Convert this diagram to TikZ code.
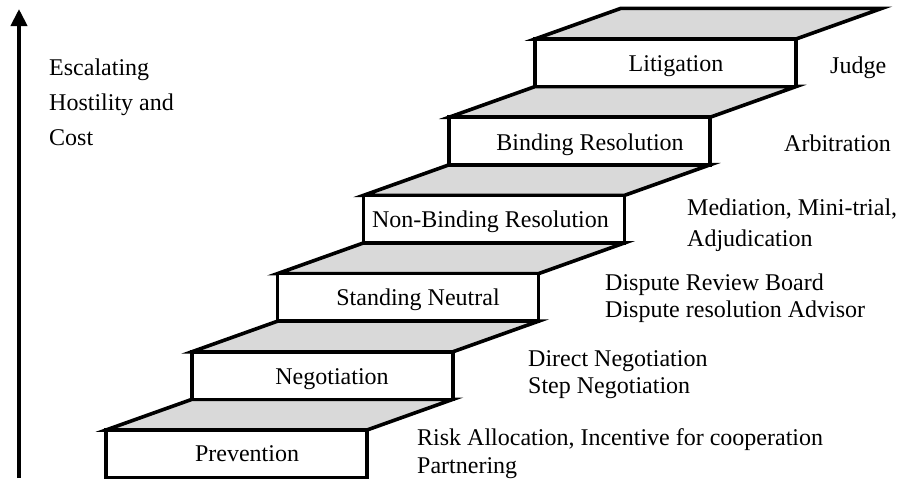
\documentclass[tikz,border=0pt]{standalone}
\usepackage{fontspec}
\setmainfont{Liberation Serif}
\usetikzlibrary{arrows.meta}
\begin{document}
\begin{tikzpicture}[x=1pt,y=-1pt,
  tread/.style={fill=treadgray,draw=black,line width=3.6pt,line join=miter},
  face/.style={fill=white,draw=black,line width=3.6pt,line join=miter},
  lab/.style={anchor=base,inner sep=0pt,font=\fontsize{24}{28}\selectfont},
  side/.style={anchor=base west,inner sep=0pt,align=left,font=\fontsize{24}{28}\selectfont}]
\definecolor{treadgray}{HTML}{D9D9D9}
\useasboundingbox (0,0) rectangle (904,479);
% steps
\foreach \i in {0,...,5}{
  \pgfmathsetmacro\L{106+85.8*\i}
  \pgfmathsetmacro\T{430-78.2*\i}
  \coordinate (fl\i) at (\L,\T);
  \draw[tread] (fl\i) -- ++(261,0) -- ++(86,-30.7) -- ++(-261,0) -- cycle;
  \draw[face] (fl\i) rectangle ++(261,47.5);
}
% step labels
\node[lab] (l0) at (247,461) {Prevention};
\node[lab] (l1) at (332,384) {Negotiation};
\node[lab] (l2) at (418,305) {Standing Neutral};
\node[lab] (l3) at (490.5,227) {Non-Binding Resolution};
\node[lab] (l4) at (590,150) {Binding Resolution};
\node[lab] (l5) at (676,71) {Litigation};
% side texts
\node[side] (r0) at (417,445) {Risk Allocation, Incentive for cooperation};
\node[side] (r0b) at (417,473) {Partnering};
\node[side] (r1) at (528,366) {Direct Negotiation};
\node[side] (r1b) at (528,393) {Step Negotiation};
\node[side] (r2) at (605,290) {Dispute Review Board};
\node[side] (r2b) at (605,317) {Dispute resolution Advisor};
\node[side] (r3) at (687,215) {Mediation, Mini-trial,};
\node[side] (r3b) at (687,246) {Adjudication};
\node[side] (r4) at (784,151) {Arbitration};
\node[side] (r5) at (830,73) {Judge};
% axis
\node[side] (e1) at (49,75) {Escalating};
\node[side] (e2) at (49,110) {Hostility and};
\node[side] (e3) at (49,145) {Cost};
\coordinate (abot) at (19,478);
\coordinate (atop) at (19,9);
\draw[line width=4pt,-{Triangle[length=17pt,width=16pt]}] (abot) -- (atop);
\end{tikzpicture}
\end{document}
